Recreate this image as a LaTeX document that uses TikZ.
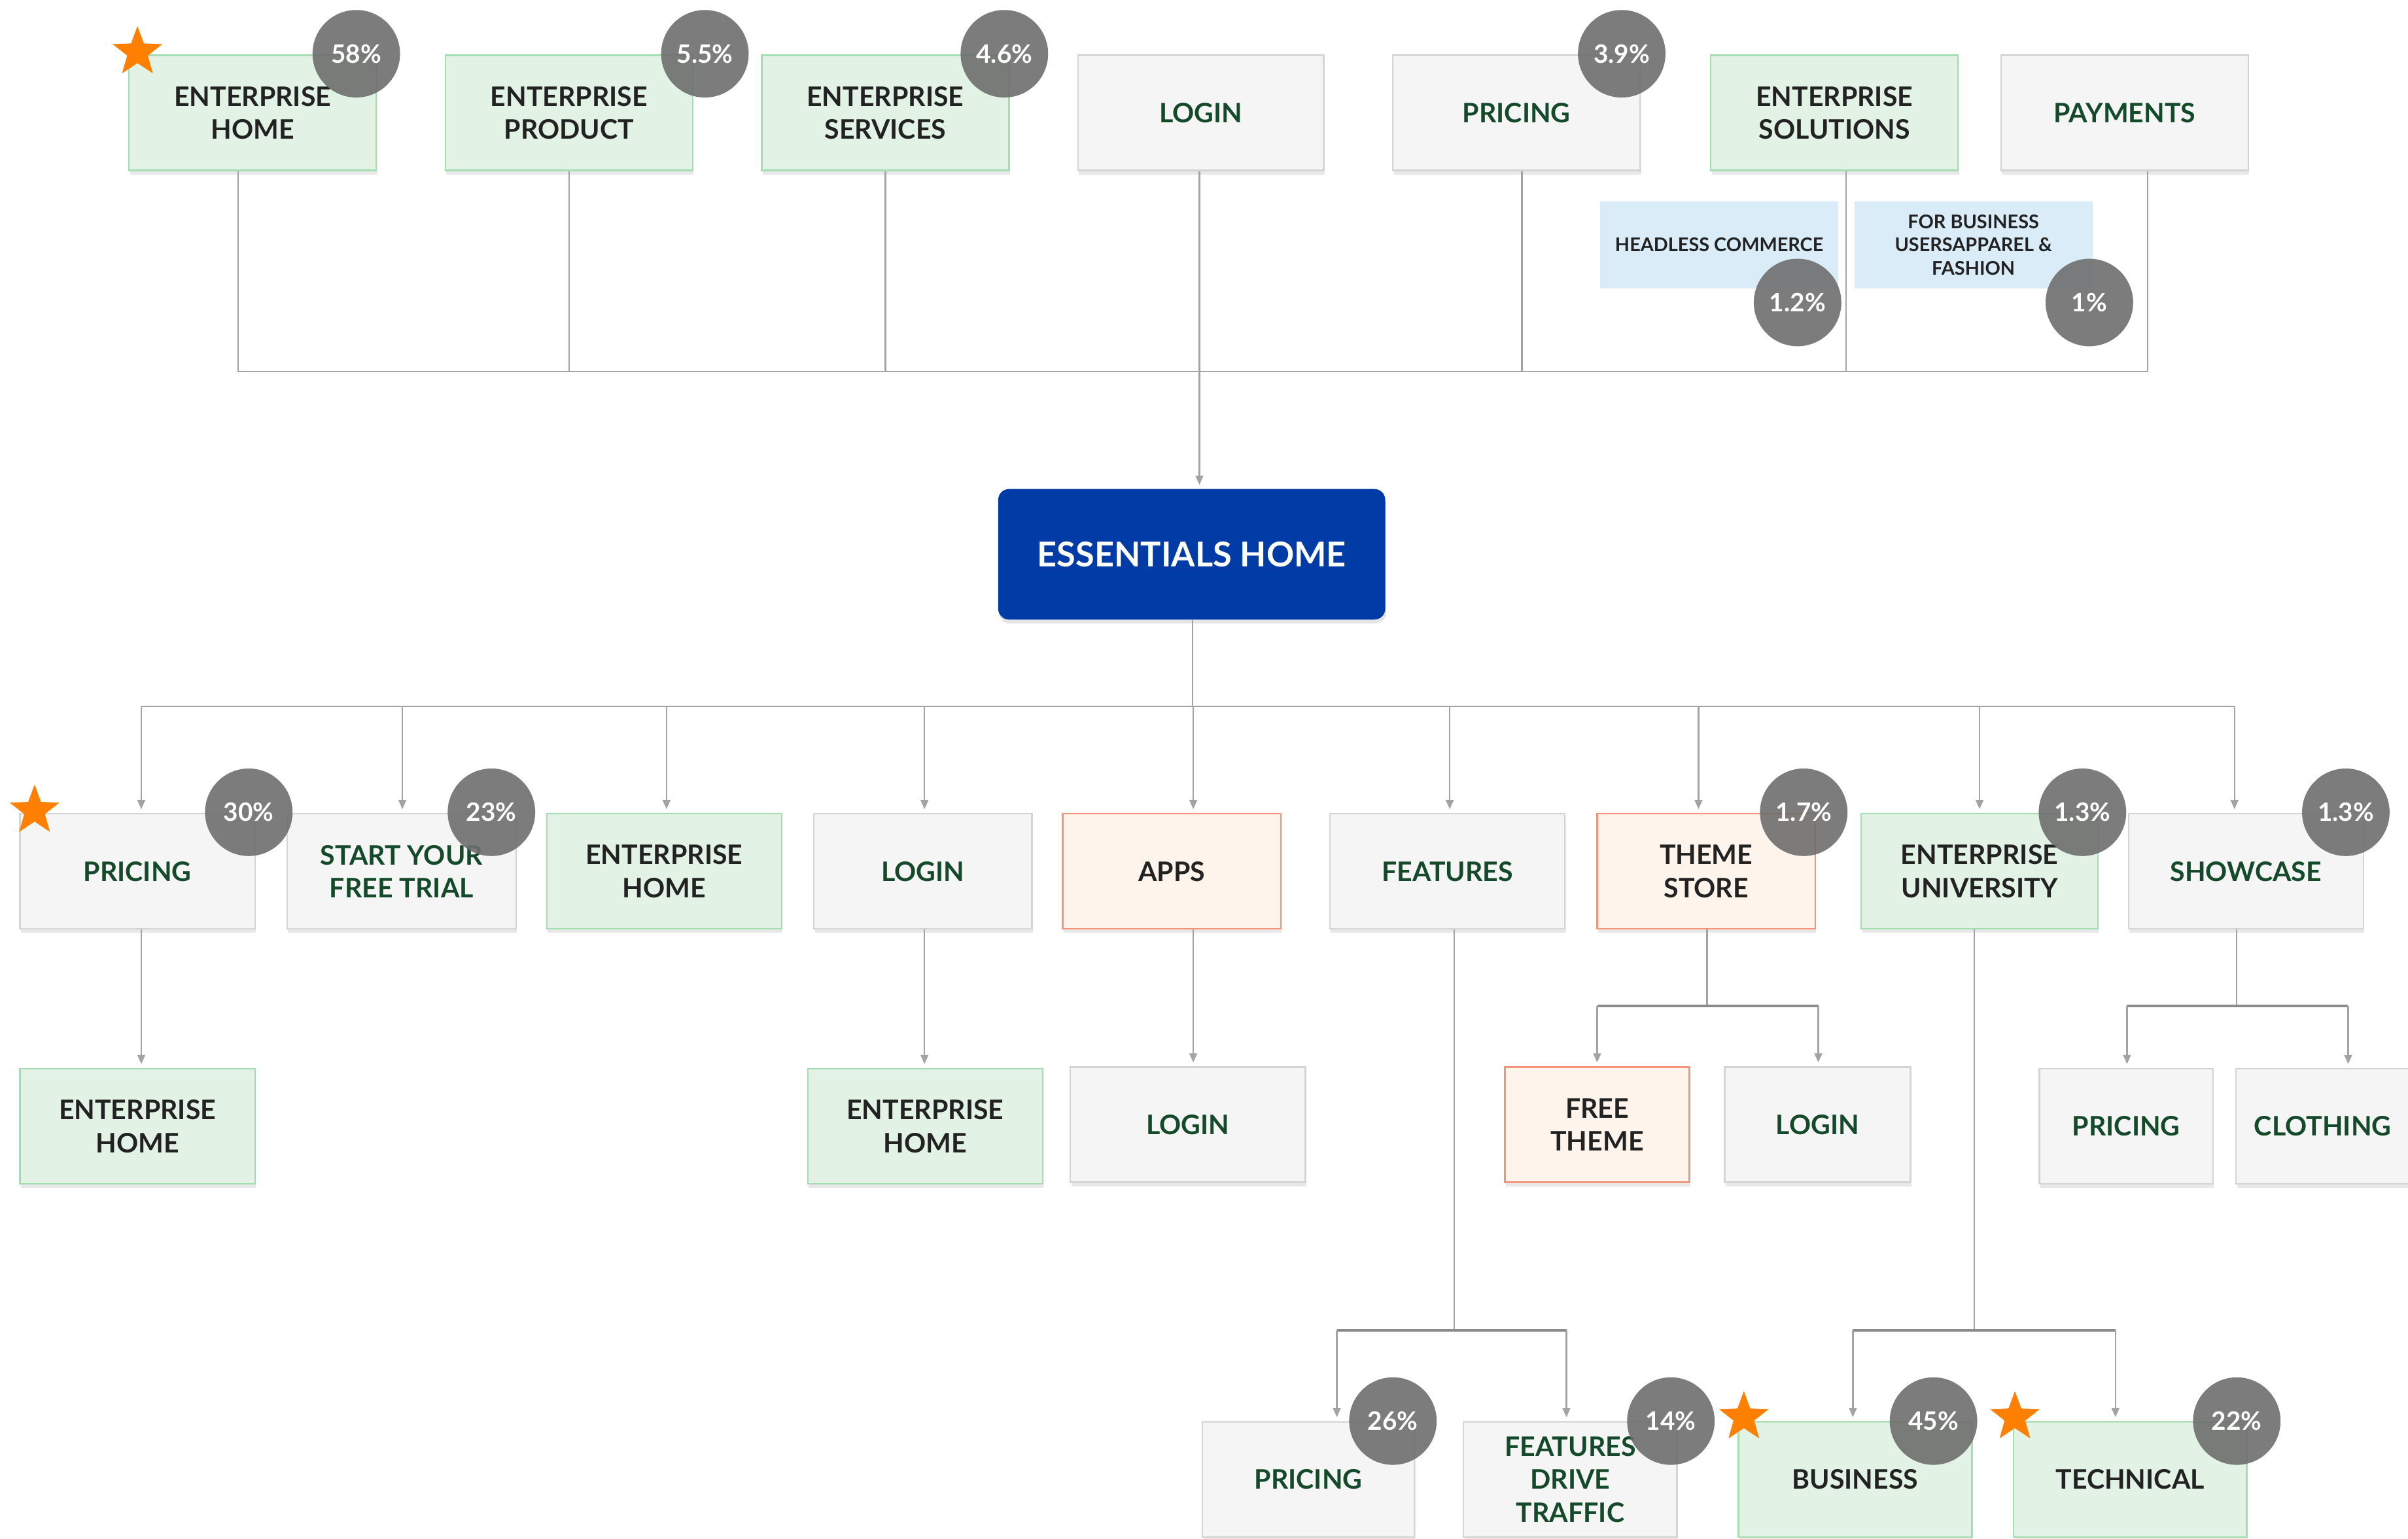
\documentclass[tikz,border=0pt]{standalone}
\usepackage{fontspec}
\setmainfont{Lato}
\usetikzlibrary{shapes.geometric,arrows.meta,shadows}

\definecolor{gfill}{HTML}{E2F3E6}
\definecolor{gdraw}{HTML}{A6DCB1}
\definecolor{grfill}{HTML}{F5F5F5}
\definecolor{grdraw}{HTML}{D4D4D4}
\definecolor{ofill}{HTML}{FEF4EC}
\definecolor{odraw}{HTML}{F2957A}
\definecolor{bfill}{HTML}{D9ECF7}
\definecolor{essblue}{HTML}{003BA6}
\definecolor{badgegray}{HTML}{6E6E6E}
\definecolor{txtgreen}{HTML}{14492A}
\definecolor{txtdark}{HTML}{222222}
\definecolor{linegray}{HTML}{A3A3A3}
\definecolor{starorange}{HTML}{FF8000}

\begin{document}
\begin{tikzpicture}[x=1pt,y=-1pt,
  box/.style={rectangle, line width=1pt, align=center, inner sep=2pt,
    minimum height=75, font=\bfseries\fontsize{17.5}{21.5}\selectfont,
    drop shadow={shadow xshift=0.6pt, shadow yshift=-2.6pt, opacity=0.18}},
  greenbox/.style={box, fill=gfill, draw=gdraw, text=txtdark},
  graybox/.style={box, fill=grfill, draw=grdraw, text=txtgreen},
  orangebox/.style={box, fill=ofill, draw=odraw, text=txtdark},
  notebox/.style={rectangle, fill=bfill, align=center, inner sep=0pt,
    minimum width=155, minimum height=57, text=txtdark,
    font=\bfseries\fontsize{12.3}{15}\selectfont},
  mainbox/.style={rectangle, rounded corners=7pt, fill=essblue, text=white,
    minimum width=252, minimum height=85, inner sep=0pt,
    font=\bfseries\fontsize{22.3}{26}\selectfont,
    drop shadow={shadow xshift=0.6pt, shadow yshift=-2.6pt, opacity=0.2}},
  badge/.style={circle, fill=badgegray, fill opacity=0.9, text opacity=1,
    text=white, minimum size=57, inner sep=0pt,
    font=\bfseries\fontsize{16.5}{16.5}\selectfont},
  starmark/.style={star, star points=5, star point ratio=2.4, fill=starorange,
    inner sep=0pt, minimum size=34},
  link/.style={draw=linegray, line width=1pt},
  branch/.style={draw=linegray!85!black, line width=1.6pt},
  arr/.style={link, -{Triangle[length=6pt,width=5pt]}, shorten >=2.5pt}
]
\useasboundingbox (0,0) rectangle (1568,1002);
\fill[white] (0,0) rectangle (1568,1002);

% ---------------- top row ----------------
\node[greenbox, minimum width=161] (eh)  at (164.5,73.5) {ENTERPRISE\\HOME};
\node[greenbox, minimum width=161] (ep)  at (370.5,73.5) {ENTERPRISE\\PRODUCT};
\node[greenbox, minimum width=161] (es)  at (576.5,73.5) {ENTERPRISE\\SERVICES};
\node[graybox,  minimum width=160] (lg)  at (782,73.5)   {LOGIN};
\node[graybox,  minimum width=161] (pr)  at (987.5,73.5) {PRICING};
\node[greenbox, minimum width=161] (eso) at (1194.5,73.5) {ENTERPRISE\\SOLUTIONS};
\node[graybox,  minimum width=161] (pay) at (1383.5,73.5) {PAYMENTS};

\node[notebox] (hc) at (1119.5,159.5) {HEADLESS COMMERCE};
\node[notebox] (fb) at (1285,159.5) {FOR BUSINESS\\USERSAPPAREL \&\\FASHION};

% ---------------- hub ----------------
\node[mainbox] (ess) at (776,361) {ESSENTIALS HOME};

% ---------------- second row ----------------
\node[graybox,   minimum width=153] (p2)    at (89.5,567.5)  {PRICING};
\node[graybox,   minimum width=149] (trial) at (261.5,567.5) {START YOUR\\FREE TRIAL};
\node[greenbox,  minimum width=153] (eh2)   at (432.5,567.5) {ENTERPRISE\\HOME};
\node[graybox,   minimum width=142] (lg2)   at (601,567.5)   {LOGIN};
\node[orangebox, minimum width=142] (apps)  at (763,567.5)   {APPS};
\node[graybox,   minimum width=153] (feat)  at (942.5,567.5) {FEATURES};
\node[orangebox, minimum width=142] (theme) at (1111,567.5)  {THEME\\STORE};
\node[greenbox,  minimum width=154] (eu)    at (1289,567.5)  {ENTERPRISE\\UNIVERSITY};
\node[graybox,   minimum width=153] (show)  at (1462.5,567.5) {SHOWCASE};

% ---------------- third row ----------------
\node[greenbox,  minimum width=153] (eh3a) at (89.5,733.5)   {ENTERPRISE\\HOME};
\node[greenbox,  minimum width=153] (eh3b) at (602.5,733.5)  {ENTERPRISE\\HOME};
\node[graybox,   minimum width=153] (lg3)  at (773.5,732.5)  {LOGIN};
\node[orangebox, minimum width=120] (ft)   at (1040,732.5)   {FREE\\THEME};
\node[graybox,   minimum width=121] (lg4)  at (1183.5,732.5) {LOGIN};
\node[graybox,   minimum width=113] (pr3)  at (1384.5,733.5) {PRICING};
\node[graybox,   minimum width=113] (cl)   at (1512.5,733.5) {CLOTHING};

% ---------------- fourth row ----------------
\node[graybox,  minimum width=138] (pr4)  at (852,963.5)    {PRICING};
\node[graybox,  minimum width=139] (fdt)  at (1022.5,963.5) {FEATURES\\DRIVE\\TRAFFIC};
\node[greenbox, minimum width=152] (bus)  at (1208,963.5)   {BUSINESS};
\node[greenbox, minimum width=152] (tech) at (1387,963.5)   {TECHNICAL};

% ---------------- junction points ----------------
\coordinate (t1) at (155,242);
\coordinate (t2) at (370.5,242);
\coordinate (t3) at (576.5,242);
\coordinate (t4) at (781,242);
\coordinate (t5) at (991,242);
\coordinate (t6) at (1202,242);
\coordinate (t7) at (1398.5,242);

\coordinate (b0) at (776.5,460);
\coordinate (b1) at (92,460);
\coordinate (b2) at (262,460);
\coordinate (b3) at (434,460);
\coordinate (b4) at (602,460);
\coordinate (b5) at (777,460);
\coordinate (b6) at (944,460);
\coordinate (b7) at (1106,460);
\coordinate (b8) at (1289,460);
\coordinate (b9) at (1455,460);

\coordinate (ts) at (1111.5,655);
\coordinate (tsl) at (1040,655);
\coordinate (tsr) at (1184,655);
\coordinate (sc) at (1456.5,655);
\coordinate (scl) at (1385,655);
\coordinate (scr) at (1529,655);
\coordinate (fe) at (947,866.5);
\coordinate (fel) at (870.5,866.5);
\coordinate (fer) at (1020,866.5);
\coordinate (un) at (1285.5,866.5);
\coordinate (unl) at (1206.5,866.5);
\coordinate (unr) at (1377.5,866.5);

% ---------------- connectors: top ----------------
\draw[link] (eh.south -| t1) -- (t1) -- (t7) -- (pay.south -| t7);
\draw[link] (ep.south -| t2) -- (t2);
\draw[link] (es.south -| t3) -- (t3);
\draw[link] (pr.south -| t5) -- (t5);
\draw[link] (eso.south -| t6) -- (t6);
\draw[arr]  (lg.south -| t4) -- (t4 |- ess.north);

% ---------------- connectors: hub to second row ----------------
\draw[link] (ess.south -| b0) -- (b0);
\draw[link] (b1) -- (b9);
\draw[arr] (b1) -- (b1 |- p2.north);
\draw[arr] (b2) -- (b2 |- trial.north);
\draw[arr] (b3) -- (b3 |- eh2.north);
\draw[arr] (b4) -- (b4 |- lg2.north);
\draw[arr] (b5) -- (b5 |- apps.north);
\draw[arr] (b6) -- (b6 |- feat.north);
\draw[arr] (b7) -- (b7 |- theme.north);
\draw[arr] (b8) -- (b8 |- eu.north);
\draw[arr] (b9) -- (b9 |- show.north);

% ---------------- connectors: second to third row ----------------
\draw[arr] (p2.south -| b1) -- (b1 |- eh3a.north);
\draw[arr] (lg2.south -| b4) -- (b4 |- eh3b.north);
\draw[arr] (apps.south -| b5) -- (b5 |- lg3.north);

\draw[link] (theme.south -| ts) -- (ts);
\draw[branch] (tsl) -- (tsr);
\draw[arr] (tsl) -- (tsl |- ft.north);
\draw[arr] (tsr) -- (tsr |- lg4.north);

\draw[link] (show.south -| sc) -- (sc);
\draw[branch] (scl) -- (scr);
\draw[arr] (scl) -- (scl |- pr3.north);
\draw[arr] (scr) -- (scr |- cl.north);

% ---------------- connectors: to fourth row ----------------
\draw[link] (feat.south -| fe) -- (fe);
\draw[branch] (fel) -- (fer);
\draw[arr] (fel) -- (fel |- pr4.north);
\draw[arr] (fer) -- (fer |- fdt.north);

\draw[link] (eu.south -| un) -- (un);
\draw[branch] (unl) -- (unr);
\draw[arr] (unl) -- (unl |- bus.north);
\draw[arr] (unr) -- (unr |- tech.north);

% ---------------- share badges ----------------
\node[badge] (k1)  at (232,35)     {58\%};
\node[badge] (k2)  at (459,35)     {5.5\%};
\node[badge] (k3)  at (654,35)     {4.6\%};
\node[badge] (k4)  at (1056,35)    {3.9\%};
\node[badge] (k5)  at (1170.5,197) {1.2\%};
\node[badge] (k6)  at (1360.5,197) {1\%};
\node[badge] (k7)  at (162,529)    {30\%};
\node[badge] (k8)  at (320,529)    {23\%};
\node[badge] (k9)  at (1174.5,529) {1.7\%};
\node[badge] (k10) at (1356,529)   {1.3\%};
\node[badge] (k11) at (1527.5,529) {1.3\%};
\node[badge] (k12) at (907,925.5)  {26\%};
\node[badge] (k13) at (1088,925.5) {14\%};
\node[badge] (k14) at (1259,925.5) {45\%};
\node[badge] (k15) at (1456.5,925.5) {22\%};

% ---------------- stars ----------------
\node[starmark] (s1) at (89.5,34)   {};
\node[starmark] (s2) at (22.5,528)  {};
\node[starmark] (s3) at (1135.5,923) {};
\node[starmark] (s4) at (1312,923)  {};
\end{tikzpicture}
\end{document}
